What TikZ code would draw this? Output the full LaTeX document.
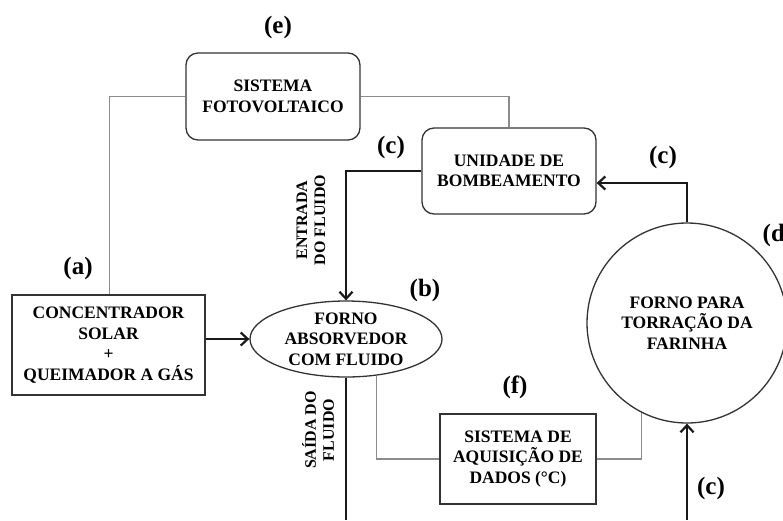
\documentclass[tikz,border=0pt]{standalone}
\usepackage{fontspec}
\setmainfont{Liberation Serif}
\usetikzlibrary{arrows.meta,shapes.geometric}

\tikzset{
	caixa/.style={draw=black!80, line width=1.3pt, align=center, inner sep=0pt,
		font=\bfseries\fontsize{17.5}{20.5}\selectfont},
	rotulo/.style={font=\bfseries\fontsize{25}{28}\selectfont},
	legenda/.style={align=center, rotate=90, font=\bfseries\fontsize{16}{18}\selectfont},
	tubo/.style={line width=2.6pt, black!90},
	fio/.style={line width=1.1pt, black!45},
	seta/.style={-{Straight Barb[length=7pt,width=13pt,line width=2.2pt]}}
}

\begin{document}
\begin{tikzpicture}[x=1pt,y=-1pt]
	\clip (0,0) rectangle (783,520);
	\fill[white] (0,0) rectangle (783,520);
	% blocos
	\node[caixa, rounded corners=12pt, minimum width=174pt, minimum height=87pt] (pv) at (273,96.5) {SISTEMA\\FOTOVOLTAICO};
	\node[caixa, rounded corners=12pt, minimum width=174pt, minimum height=86pt] (bomba) at (509,171) {UNIDADE DE\\BOMBEAMENTO};
	\node[caixa, minimum width=193pt, minimum height=100pt] (conc) at (108.5,345) {CONCENTRADOR\\SOLAR\\+\\QUEIMADOR A GÁS};
	\node[caixa, ellipse, inner xsep=2pt, inner ysep=-4pt, minimum width=192pt, minimum height=76pt] (forno) at (346,339) {FORNO\\ABSORVEDOR\\COM FLUIDO};
	\node[caixa, circle, minimum size=200pt] (torra) at (687,323) {FORNO PARA\\TORRAÇÃO DA\\FARINHA};
	\node[caixa, minimum width=156pt, minimum height=90pt] (aqui) at (518,459) {SISTEMA DE\\AQUISIÇÃO DE\\DADOS (°C)};
	\coordinate (saida) at (forno.south |- 0,520);
	\coordinate (volta) at (torra.south |- 0,520);
	% ligacoes
	\draw[fio] (pv.west) -| ([xshift=98pt]conc.north west);
	\draw[fio] (pv.east) -| (bomba.north);
	\draw[fio] (forno.-50) |- (aqui.west);
	\draw[fio] (aqui.east) -| (torra.-117);
	\draw[tubo, seta] (bomba.west) -| (forno.north);
	\draw[tubo, seta] (conc.east |- forno.west) -- (forno.west);
	\draw[tubo] (forno.south) -- (saida);
	\draw[tubo, seta] (torra.north) |- ([yshift=-12pt]bomba.east);
	\draw[tubo, seta] (volta) -- (torra.south);
	% rotulos
	\node[rotulo] (le) at (278,27) {(e)};
	\node[rotulo] (la) at (78,268) {(a)};
	\node[rotulo] (lb) at (425,290) {(b)};
	\node[rotulo] (lc1) at (391,147) {(c)};
	\node[rotulo] (lc2) at (663,157) {(c)};
	\node[rotulo] (lc3) at (711,488) {(c)};
	\node[rotulo] (ld) at (778,235) {(d)};
	\node[rotulo] (lf) at (515,387) {(f)};
	\node[legenda] (ent) at (311,220) {ENTRADA\\DO FLUIDO};
	\node[legenda] (sai) at (318,430) {SAÍDA DO\\FLUIDO};
\end{tikzpicture}
\end{document}
